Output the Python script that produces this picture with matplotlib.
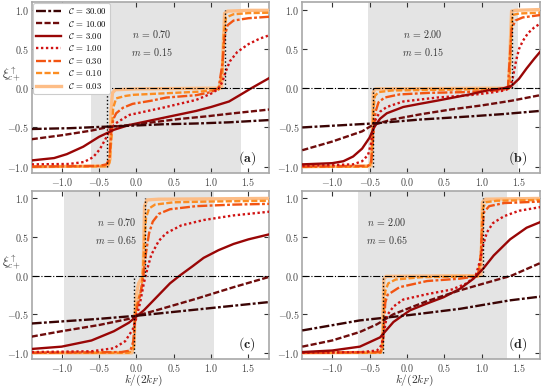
import matplotlib
matplotlib.use('Agg')
import matplotlib.pyplot as plt

plt.rcParams.update({
    'font.family': 'serif',
    'font.serif': ['cmr10', 'DejaVu Serif'],
    'mathtext.fontset': 'cm',
    'axes.formatter.use_mathtext': True,
    'axes.unicode_minus': True,
})

# ---------------- data ----------------
C_VALUES = [30.00, 10.00, 3.00, 1.00, 0.30, 0.10, 0.03]
PANEL_LABELS = ['a', 'b', 'c', 'd']
N_VALUES = [0.70, 2.00, 0.70, 2.00]
M_VALUES = [0.15, 0.15, 0.65, 0.65]
SHADE_LO = [-0.60, -0.52, -0.965, -0.655]
SHADE_HI = [1.40, 1.48, 1.035, 1.345]
STEP_LO = [-0.39, -0.46, -0.035, -0.325]
STEP_HI = [1.19, 1.40, 0.11, 1.02]
X_TICKS = [-1.0, -0.5, 0.0, 0.5, 1.0, 1.5]
Y_TICKS = [-1.0, -0.5, 0.0, 0.5, 1.0]

# panel (a): n=0.70, m=0.15
A30_X = [-1.4, -0.9, -0.4, 0.0, 0.35, 0.8, 1.24, 1.8]
A30_Y = [-0.52, -0.51, -0.49, -0.475, -0.46, -0.45, -0.435, -0.405]
A10_X = [-1.4, -1.0, -0.6, -0.4, 0.0, 0.6, 0.93, 1.3, 1.8]
A10_Y = [-0.65, -0.6, -0.54, -0.5, -0.46, -0.39, -0.36, -0.32, -0.27]
A3_X = [-1.4, -1.1, -0.93, -0.71, -0.5, -0.3, -0.1, 0.2, 0.5, 0.8, 1.0, 1.24, 1.4, 1.54, 1.8]
A3_Y = [-0.92, -0.89, -0.84, -0.745, -0.62, -0.53, -0.47, -0.41, -0.35, -0.29, -0.24, -0.17, -0.08, 0.0, 0.14]
A1_X = [-1.4, -0.9, -0.7, -0.58, -0.49, -0.42, -0.35, -0.28, -0.18, -0.09, 0.35, 0.8, 1.0, 1.1, 1.15,
        1.2, 1.25, 1.35, 1.5, 1.65, 1.8]
A1_Y = [-0.97, -0.965, -0.94, -0.88, -0.78, -0.66, -0.53, -0.45, -0.39, -0.34, -0.25, -0.15, -0.07, -0.01, 0.08,
        0.22, 0.34, 0.46, 0.56, 0.63, 0.68]
A03_X = [-1.4, -0.5, -0.4, -0.36, -0.34, -0.31, -0.27, -0.18, -0.05, 0.2, 0.4, 0.8, 1.0, 1.1, 1.15, 1.18,
         1.22, 1.3, 1.5, 1.8]
A03_Y = [-1.0, -0.99, -0.97, -0.9, -0.6, -0.4, -0.32, -0.25, -0.2, -0.16, -0.12, -0.09, -0.05, 0.0, 0.3, 0.65,
         0.8, 0.86, 0.89, 0.91]
A01_X = [-1.4, -0.4, -0.36, -0.33, -0.31, -0.27, -0.15, -0.04, 0.4, 0.84, 1.1, 1.15, 1.17, 1.2, 1.3, 1.5, 1.8]
A01_Y = [-1.0, -0.995, -0.95, -0.6, -0.25, -0.13, -0.1, -0.085, -0.065, -0.045, -0.02, 0.2, 0.7, 0.9, 0.94,
         0.955, 0.96]
A003_X = [-1.4, -0.38, -0.35, -0.34, -0.32, -0.28, 0.0, 1.14, 1.16, 1.18, 1.22, 1.5, 1.8]
A003_Y = [-1.0, -0.99, -0.9, -0.3, -0.06, -0.02, -0.01, 0.0, 0.5, 0.95, 0.98, 0.99, 0.99]

# panel (b): n=2.00, m=0.15
B30_X = [-1.4, -0.46, 0.17, 0.84, 1.29, 1.78]
B30_Y = [-0.50, -0.45, -0.40, -0.36, -0.33, -0.29]
B10_X = [-1.4, -1.0, -0.6, -0.46, -0.2, 0.2, 0.6, 1.0, 1.4, 1.78]
B10_Y = [-0.79, -0.68, -0.55, -0.47, -0.40, -0.33, -0.27, -0.22, -0.16, -0.09]
B3_X = [-1.4, -1.0, -0.85, -0.72, -0.6, -0.5, -0.44, -0.36, -0.27, -0.05, 0.17, 0.4, 0.62, 0.84, 1.07,
        1.3, 1.4, 1.5, 1.6, 1.7, 1.78]
B3_Y = [-0.97, -0.955, -0.93, -0.87, -0.77, -0.63, -0.5, -0.39, -0.32, -0.24, -0.2, -0.16, -0.12, -0.08, -0.03,
        0.0, 0.03, 0.12, 0.25, 0.37, 0.46]
B1_X = [-1.4, -0.72, -0.6, -0.52, -0.48, -0.46, -0.42, -0.36, -0.27, -0.05, 0.4, 0.84, 1.1, 1.3, 1.38,
        1.42, 1.46, 1.5, 1.55, 1.62, 1.7, 1.78]
B1_Y = [-0.99, -0.97, -0.93, -0.85, -0.7, -0.55, -0.4, -0.3, -0.24, -0.17, -0.12, -0.09, -0.06, -0.03, 0.0,
        0.15, 0.35, 0.5, 0.6, 0.7, 0.77, 0.82]
B03_X = [-1.4, -0.52, -0.48, -0.45, -0.42, -0.38, -0.3, -0.1, 0.3, 0.8, 1.2, 1.35, 1.37, 1.4, 1.45, 1.55, 1.78]
B03_Y = [-1.0, -0.99, -0.95, -0.6, -0.3, -0.18, -0.12, -0.08, -0.06, -0.05, -0.03, -0.01, 0.3, 0.75, 0.86,
         0.9, 0.93]
B01_X = [-1.4, -0.5, -0.47, -0.45, -0.43, -0.38, -0.2, 0.5, 1.3, 1.37, 1.39, 1.41, 1.5, 1.78]
B01_Y = [-1.0, -1.0, -0.9, -0.3, -0.1, -0.05, -0.03, -0.02, -0.01, 0.0, 0.6, 0.93, 0.95, 0.96]
B003_X = [-1.4, -0.48, -0.46, -0.45, -0.42, 1.36, 1.38, 1.4, 1.45, 1.78]
B003_Y = [-1.0, -0.99, -0.5, -0.05, -0.01, 0.0, 0.5, 0.98, 0.99, 1.0]

# panel (c): n=0.70, m=0.65
C30_X = [-1.4, -0.5, 0.0, 0.5, 1.0, 1.5, 1.8]
C30_Y = [-0.62, -0.56, -0.52, -0.47, -0.42, -0.37, -0.34]
C10_X = [-1.4, -1.0, -0.5, -0.1, 0.0, 0.3, 0.8, 1.3, 1.8]
C10_Y = [-0.79, -0.72, -0.64, -0.56, -0.52, -0.44, -0.30, -0.15, -0.01]
C3_X = [-1.4, -1.0, -0.6, -0.3, -0.1, 0.0, 0.1, 0.2, 0.3, 0.45, 0.58, 0.75, 0.9, 1.1, 1.3, 1.5, 1.8]
C3_Y = [-0.95, -0.92, -0.84, -0.72, -0.61, -0.53, -0.45, -0.35, -0.25, -0.1, 0.0, 0.12, 0.23, 0.33, 0.41,
        0.47, 0.54]
C1_X = [-1.4, -0.6, -0.3, -0.15, -0.05, 0.0, 0.05, 0.1, 0.15, 0.2, 0.3, 0.4, 0.6, 0.9, 1.3, 1.8]
C1_Y = [-0.99, -0.98, -0.94, -0.85, -0.7, -0.55, -0.35, -0.1, 0.1, 0.27, 0.45, 0.55, 0.65, 0.72, 0.78, 0.83]
C03_X = [-1.4, -0.2, -0.08, -0.04, -0.02, 0.0, 0.04, 0.08, 0.1, 0.13, 0.17, 0.22, 0.3, 0.45, 0.8, 1.3, 1.8]
C03_Y = [-1.0, -0.99, -0.97, -0.85, -0.6, -0.45, -0.3, -0.1, 0.05, 0.3, 0.55, 0.7, 0.8, 0.86, 0.9, 0.92, 0.93]
C01_X = [-1.4, -0.1, -0.04, -0.02, 0.0, 0.03, 0.07, 0.09, 0.11, 0.13, 0.17, 0.25, 0.5, 1.0, 1.8]
C01_Y = [-1.0, -1.0, -0.95, -0.6, -0.4, -0.3, -0.15, 0.1, 0.5, 0.75, 0.87, 0.92, 0.95, 0.96, 0.97]
C003_X = [-1.4, -0.06, -0.03, -0.02, 0.0, 0.03, 0.07, 0.09, 0.1, 0.11, 0.14, 0.3, 1.8]
C003_Y = [-1.0, -1.0, -0.9, -0.5, -0.25, -0.1, -0.03, 0.0, 0.5, 0.9, 0.98, 0.99, 1.0]

# panel (d): n=2.00, m=0.65
D30_X = [-1.4, -0.63, 0.04, 0.71, 1.38, 1.8]
D30_Y = [-0.71, -0.58, -0.51, -0.43, -0.32, -0.27]
D10_X = [-1.4, -1.0, -0.63, -0.4, -0.18, 0.27, 0.71, 1.0, 1.4, 1.8]
D10_Y = [-0.92, -0.84, -0.73, -0.63, -0.5, -0.33, -0.19, -0.11, 0.0, 0.17]
D3_X = [-1.4, -1.0, -0.63, -0.36, -0.18, 0.04, 0.27, 0.49, 0.71, 0.89, 1.02, 1.16, 1.38, 1.6, 1.8]
D3_Y = [-0.99, -0.97, -0.92, -0.8, -0.6, -0.45, -0.36, -0.28, -0.17, -0.04, 0.09, 0.26, 0.47, 0.62, 0.7]
D1_X = [-1.4, -0.6, -0.4, -0.34, -0.3, -0.27, -0.18, -0.05, 0.27, 0.6, 0.8, 0.92, 0.98, 1.02, 1.07, 1.15,
        1.3, 1.5, 1.8]
D1_Y = [-1.0, -0.99, -0.97, -0.9, -0.7, -0.52, -0.4, -0.31, -0.24, -0.18, -0.1, 0.0, 0.2, 0.4, 0.56, 0.68,
        0.77, 0.84, 0.89]
D03_X = [-1.4, -0.36, -0.33, -0.31, -0.29, -0.26, -0.1, 0.27, 0.7, 0.93, 0.98, 1.0, 1.03, 1.1, 1.3, 1.8]
D03_Y = [-1.0, -0.99, -0.95, -0.7, -0.35, -0.25, -0.15, -0.07, -0.04, -0.01, 0.1, 0.5, 0.82, 0.9, 0.94, 0.96]
D01_X = [-1.4, -0.35, -0.33, -0.31, -0.29, -0.25, -0.15, 0.2, 0.95, 0.99, 1.01, 1.05, 1.2, 1.8]
D01_Y = [-1.0, -1.0, -0.9, -0.5, -0.2, -0.1, -0.05, -0.02, -0.01, 0.3, 0.85, 0.95, 0.97, 0.98]
D003_X = [-1.4, -0.36, -0.33, -0.32, -0.31, -0.28, 0.99, 1.0, 1.01, 1.05, 1.8]
D003_Y = [-1.0, -0.995, -0.95, -0.5, -0.05, -0.01, 0.0, 0.5, 0.95, 0.99, 1.0]

CURVES = [
    [(A30_X, A30_Y), (A10_X, A10_Y), (A3_X, A3_Y), (A1_X, A1_Y), (A03_X, A03_Y), (A01_X, A01_Y), (A003_X, A003_Y)],
    [(B30_X, B30_Y), (B10_X, B10_Y), (B3_X, B3_Y), (B1_X, B1_Y), (B03_X, B03_Y), (B01_X, B01_Y), (B003_X, B003_Y)],
    [(C30_X, C30_Y), (C10_X, C10_Y), (C3_X, C3_Y), (C1_X, C1_Y), (C03_X, C03_Y), (C01_X, C01_Y), (C003_X, C003_Y)],
    [(D30_X, D30_Y), (D10_X, D10_Y), (D3_X, D3_Y), (D1_X, D1_Y), (D03_X, D03_Y), (D01_X, D01_Y), (D003_X, D003_Y)],
]

# ---------------- styles ----------------
COLORS = ['#3a0404', '#6e0c0c', '#990606', '#d01212', '#f25412', '#fc8d22', '#fdbd86']
DASHES = [(4.2, 1.0, 1.2, 1.0), (2.6, 1.0), None, (1.0, 1.1), (4.2, 1.0, 1.2, 1.0), (2.6, 1.0), None]
LWIDTHS = [1.7, 1.7, 1.7, 1.7, 1.7, 1.7, 2.4]

fig = plt.figure(figsize=(5.46, 3.88), dpi=100)
W, H = 546.0, 388.0
positions = [
    [31.7 / W, (H - 173.0) / H, 237.7 / W, 171.3 / H],
    [302.3 / W, (H - 173.0) / H, 237.7 / W, 171.3 / H],
    [31.7 / W, (H - 359.0) / H, 237.7 / W, 168.3 / H],
    [302.3 / W, (H - 359.0) / H, 237.7 / W, 168.3 / H],
]
text_x = [0.505, 0.507, 0.357, 0.355]

for p in range(4):
    ax = fig.add_axes(positions[p])
    ax.set_xlim(-1.4, 1.78)
    ax.set_ylim(-1.08, 1.1)
    ax.axvspan(SHADE_LO[p], SHADE_HI[p], color='#e4e4e4', zorder=0, lw=0)
    ax.axhline(0.0, color='black', lw=0.8, ls='-.', zorder=5)
    ax.plot([STEP_LO[p], STEP_LO[p]], [-1.0, 0.0], color='black', lw=1.0, ls=':', zorder=6)
    ax.plot([STEP_HI[p], STEP_HI[p]], [0.0, 1.0], color='black', lw=1.0, ls=':', zorder=6)
    handles = []
    for i in reversed(range(7)):
        xs, ys = CURVES[p][i]
        ln, = ax.plot(xs, ys, color=COLORS[i], lw=LWIDTHS[i], zorder=3 + 0.1 * (7 - i),
                      label=r'$\mathcal{C}\,=\,%.2f$' % C_VALUES[i])
        if DASHES[i] is not None:
            ln.set_dashes(DASHES[i])
        handles.append(ln)
    handles = handles[::-1]
    ax.set_xticks(X_TICKS)
    ax.set_yticks(Y_TICKS)
    ax.tick_params(direction='in', top=True, right=True, length=3.5, width=0.8,
                   labelsize=7.2, labelcolor='#444444', color='#333333', pad=2.0)
    for s in ax.spines.values():
        s.set_color('#a8a8a8')
        s.set_linewidth(1.2)
    ax.text(text_x[p], 0.813, r'$n\,=\,%.2f$' % N_VALUES[p], transform=ax.transAxes,
            ha='center', va='center', fontsize=7.2, color='#333333')
    ax.text(text_x[p], 0.708, r'$m\,=\,%.2f$' % M_VALUES[p], transform=ax.transAxes,
            ha='center', va='center', fontsize=7.2, color='#333333')
    ax.text(0.905, 0.088, r'$(\mathbf{%s})$' % PANEL_LABELS[p], transform=ax.transAxes,
            ha='center', va='center', fontsize=10, color='#222222')
    if p in (0, 2):
        ax.set_ylabel(r'$\xi^{\uparrow}_{c+}$', rotation=0, fontsize=9, color='#333333',
                      ha='center', va='center')
        ax.yaxis.set_label_coords(-0.085, 0.575)
    if p in (2, 3):
        ax.set_xlabel(r'$k/(2k_F)$', fontsize=8.2, color='#333333')
        ax.xaxis.set_label_coords(0.47, -0.08)
    if p == 0:
        leg = ax.legend(handles=handles, loc='upper left', fontsize=6.3, handlelength=2.9,
                        labelspacing=0.28, borderaxespad=0.15, borderpad=0.35,
                        handletextpad=0.8, framealpha=1.0, fancybox=True)
        leg.get_frame().set_edgecolor('#cccccc')
        leg.get_frame().set_linewidth(0.8)
        leg.set_zorder(10)

fig.savefig('out.png', dpi=100)
